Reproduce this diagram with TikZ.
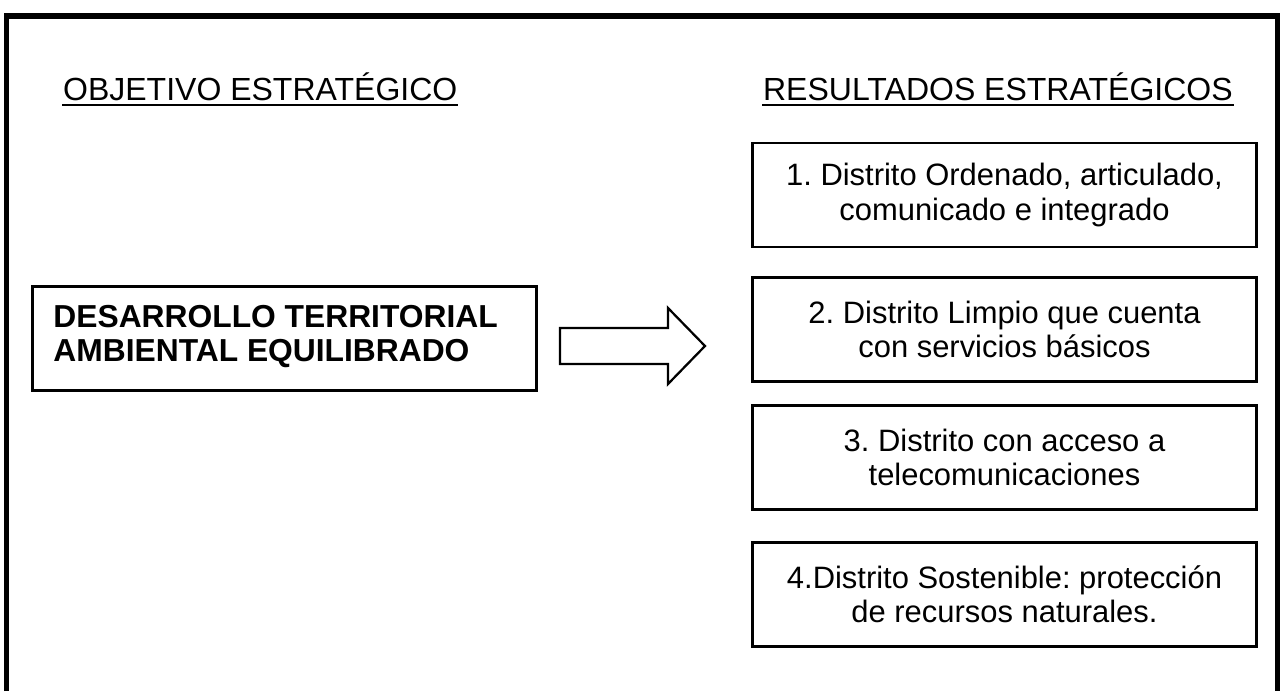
\documentclass[tikz,border=0pt]{standalone}
\usepackage{fontspec}
\setmainfont{Liberation Sans}
\usetikzlibrary{calc,positioning}
\frenchspacing

\tikzset{
  titulo/.style={anchor=base west,inner sep=0pt,font=\fontsize{22.76}{27}\selectfont},
  caja/.style={draw,line width=1.6pt,minimum width=12.6cm,minimum height=2.6cm,inner sep=0pt,align=center,font=\fontsize{22}{24.2}\selectfont},
  negrita/.style={anchor=north west,inner sep=0pt,align=left,font=\fontsize{22.6}{24.2}\selectfont\bfseries}
}

\begin{document}
\begin{tikzpicture}[x=0.025cm,y=-0.025cm,line width=1.6pt]
\useasboundingbox[fill=white] (0,0) rectangle (1280,691);
%marco
\draw[line width=3.9pt] (6.5,691) -- (6.5,16) -- (1278,16) -- (1278,691);
%titulos
\node[titulo] (OBJ) at (62,100) {OBJETIVO ESTRATÉGICO};
\node[titulo] (RES) at (762,100) {RESULTADOS ESTRATÉGICOS};
\foreach \t in {OBJ,RES} {
  \draw ($(\t.base west)+(0,5)$) -- ($(\t.base east)+(0,5)$);
}
%objetivo
\node[caja] (OBJBOX) at (284.5,338.5) {};
\node[negrita] (OBJTXT) at ($(OBJBOX.north west)+(21,19)$) {DESARROLLO TERRITORIAL\\AMBIENTAL EQUILIBRADO};
%flecha
\coordinate (F1) at (560,328);
\coordinate (F2) at (668,328);
\coordinate (F3) at (668,308);
\coordinate (F4) at (705,346);
\coordinate (F5) at (668,384);
\coordinate (F6) at (668,364);
\coordinate (F7) at (560,364);
\draw (F1)--(F2)--(F3)--(F4)--(F5)--(F6)--(F7)--cycle;
%resultados
\foreach \n/\y/\txt in {1/195/{1. Distrito Ordenado, articulado,\\comunicado e integrado},
                        2/329.5/{2. Distrito Limpio que cuenta\\con servicios básicos},
                        3/457.5/{3. Distrito con acceso a\\telecomunicaciones},
                        4/594.5/{4.Distrito Sostenible: protección\\de recursos naturales.}} {
  \node[caja] (RES\n) at (1004.5,\y) {\txt};
}
\end{tikzpicture}
\end{document}
